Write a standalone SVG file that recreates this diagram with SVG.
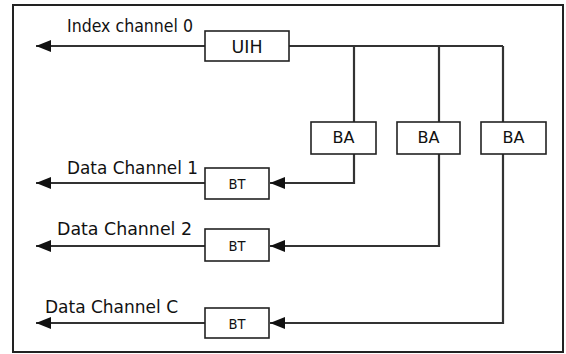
<svg xmlns="http://www.w3.org/2000/svg" width="566" height="354" viewBox="0 0 566 354">
  <defs>
    <marker id="arrow" markerWidth="16" markerHeight="12" refX="15" refY="6" orient="auto" markerUnits="userSpaceOnUse">
      <path d="M0,0 L15,6 L0,12 Z" fill="#111"/>
    </marker>
    <style>
      .frame { fill: #fff; stroke: #222; stroke-width: 2; }
      .box { fill: #fff; stroke: #222; stroke-width: 1.6; }
      .wire { fill: none; stroke: #333; stroke-width: 2.2; }
      .label { font-family: "DejaVu Sans", Verdana, sans-serif; font-size: 17px; fill: #111; }
      .boxtext { font-family: "DejaVu Sans", Verdana, sans-serif; fill: #111; text-anchor: middle; }
    </style>
  </defs>

  <rect class="frame" x="13" y="5" width="550" height="347"/>

  <g id="connectors">
    <!-- outputs to the left -->
    <line class="wire" x1="205" y1="46" x2="36" y2="46" marker-end="url(#arrow)"/>
    <line class="wire" x1="205" y1="183" x2="36" y2="183" marker-end="url(#arrow)"/>
    <line class="wire" x1="205" y1="246" x2="36" y2="246" marker-end="url(#arrow)"/>
    <line class="wire" x1="205" y1="323" x2="36" y2="323" marker-end="url(#arrow)"/>
    <!-- UIH bus to the BA blocks -->
    <polyline class="wire" points="289,46 503,46"/>
    <line class="wire" x1="354" y1="46" x2="354" y2="122"/>
    <line class="wire" x1="439" y1="46" x2="439" y2="122"/>
    <line class="wire" x1="503" y1="46" x2="503" y2="122"/>
    <!-- BA blocks to BT blocks -->
    <polyline class="wire" points="354,154 354,183 270,183" marker-end="url(#arrow)"/>
    <polyline class="wire" points="439,154 439,246 270,246" marker-end="url(#arrow)"/>
    <polyline class="wire" points="503,154 503,323 270,323" marker-end="url(#arrow)"/>
  </g>

  <g id="label-index">
    <text class="label" x="67" y="32" textLength="126" lengthAdjust="spacingAndGlyphs">Index channel 0</text>
  </g>
  <g id="label-data1">
    <text class="label" x="67" y="174" textLength="131" lengthAdjust="spacingAndGlyphs">Data Channel 1</text>
  </g>
  <g id="label-data2">
    <text class="label" x="57" y="235" textLength="135" lengthAdjust="spacingAndGlyphs">Data Channel 2</text>
  </g>
  <g id="label-dataC">
    <text class="label" x="45" y="313" textLength="133" lengthAdjust="spacingAndGlyphs">Data Channel C</text>
  </g>

  <g id="uih">
    <rect class="box" x="205" y="31" width="84" height="30"/>
    <text class="boxtext" x="247" y="52.5" font-size="17" textLength="31" lengthAdjust="spacingAndGlyphs">UIH</text>
  </g>

  <g id="ba1">
    <rect class="box" x="311" y="122" width="65" height="32"/>
    <text class="boxtext" x="343.5" y="143" font-size="16" textLength="22" lengthAdjust="spacingAndGlyphs">BA</text>
  </g>
  <g id="ba2">
    <rect class="box" x="397" y="122" width="63" height="32"/>
    <text class="boxtext" x="428.5" y="143" font-size="16" textLength="22" lengthAdjust="spacingAndGlyphs">BA</text>
  </g>
  <g id="ba3">
    <rect class="box" x="481" y="122" width="65" height="32"/>
    <text class="boxtext" x="513.5" y="143" font-size="16" textLength="22" lengthAdjust="spacingAndGlyphs">BA</text>
  </g>

  <g id="bt1">
    <rect class="box" x="205" y="168" width="64" height="31"/>
    <text class="boxtext" x="237" y="188.5" font-size="14" textLength="17" lengthAdjust="spacingAndGlyphs">BT</text>
  </g>
  <g id="bt2">
    <rect class="box" x="205" y="229" width="64" height="32"/>
    <text class="boxtext" x="237" y="250.5" font-size="14" textLength="17" lengthAdjust="spacingAndGlyphs">BT</text>
  </g>
  <g id="bt3">
    <rect class="box" x="205" y="308" width="64" height="30"/>
    <text class="boxtext" x="237" y="328.5" font-size="14" textLength="17" lengthAdjust="spacingAndGlyphs">BT</text>
  </g>
</svg>
